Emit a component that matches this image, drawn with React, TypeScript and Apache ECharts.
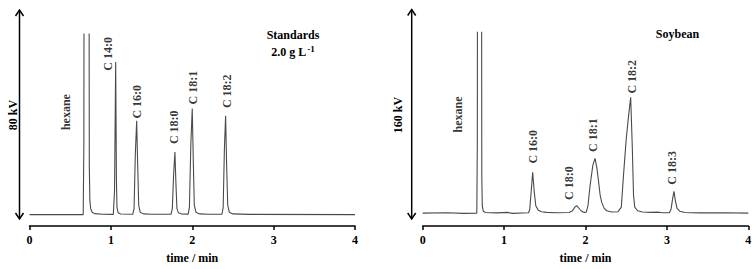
import React, { useEffect, useRef } from "react";
import * as echarts from "echarts";

// Chromatogram traces: [time (min), detector signal (arb. units)]
const standardsTrace: [number, number][] = [
  [0, 0], [0.66, 0], [0.668, 60], [0.672, 300], [0.73, 300], [0.735, 40], [0.742, 12],
  [0.752, 5], [0.77, 2], [0.8, 0.8], [0.9, 0.3], [1.03, 0.2], [1.045, 20], [1.059, 128.5],
  [1.068, 30], [1.075, 6], [1.09, 1.5], [1.12, 0.5], [1.27, 0.3], [1.285, 5], [1.3, 50],
  [1.317, 79], [1.33, 40], [1.342, 8], [1.36, 2], [1.4, 0.6], [1.5, 0.3], [1.74, 0.3],
  [1.755, 5], [1.772, 35], [1.787, 52.7], [1.8, 25], [1.812, 5], [1.83, 1.5], [1.87, 0.5],
  [1.95, 0.4], [1.965, 6], [1.983, 60], [2.0, 89.3], [2.013, 45], [2.025, 8], [2.045, 2],
  [2.09, 0.6], [2.2, 0.3], [2.365, 0.3], [2.38, 6], [2.395, 55], [2.41, 83.2], [2.423, 40],
  [2.436, 8], [2.455, 2], [2.5, 0.6], [2.7, 0.2], [4, 0],
];

const soybeanTrace: [number, number][] = [
  [0, 0], [0.3, 0.3], [0.5, -0.2], [0.665, 0], [0.671, 60], [0.674, 300], [0.722, 300],
  [0.726, 30], [0.732, 6], [0.745, 1.5], [0.77, 0.5], [0.9, 0.2], [1.05, 0.6], [1.1, -0.2],
  [1.3, 0.3], [1.315, 3], [1.335, 20], [1.351, 34.2], [1.37, 18], [1.39, 6], [1.42, 2.5],
  [1.46, 1.2], [1.52, 0.6], [1.65, 0.3], [1.8, 0.5], [1.84, 2], [1.87, 5], [1.892, 6.3],
  [1.915, 4.5], [1.945, 2], [1.975, 0.8], [1.995, 0.6], [2.01, 1], [2.03, 6], [2.056, 23],
  [2.09, 40], [2.117, 46], [2.14, 38], [2.158, 28], [2.18, 15], [2.199, 9], [2.23, 4],
  [2.26, 2], [2.32, 1], [2.4, 1.2], [2.44, 5], [2.465, 30], [2.5, 62], [2.53, 82],
  [2.555, 97.2], [2.575, 55], [2.59, 15], [2.605, 5], [2.64, 2], [2.7, 1], [2.8, 0.6],
  [2.9, 0.8], [2.95, 0.3], [3.03, 0.3], [3.05, 3], [3.07, 12], [3.087, 18.3], [3.105, 10],
  [3.125, 4], [3.16, 1.5], [3.22, 0.5], [3.4, 0.2], [3.7, 0.3], [4, 0],
];

// Peak labels: name, time, vertical position (signal units)
const standardsLabelNames = ["hexane", "C 14:0", "C 16:0", "C 18:0", "C 18:1", "C 18:2"];
const standardsLabelTimes = [0.445, 0.969, 1.317, 1.775, 2.012, 2.423];
const standardsLabelLevels = [86.3, 135.3, 95, 73.5, 106.8, 103.8];

const soybeanLabelNames = ["hexane", "C 16:0", "C 18:0", "C 18:1", "C 18:2", "C 18:3"];
const soybeanLabelTimes = [0.43, 1.359, 1.797, 2.096, 2.568, 3.059];
const soybeanLabelLevels = [82.8, 55.7, 25.1, 65.4, 114.4, 38];

const xTicks = [0, 1, 2, 3, 4];

const FONT = "Liberation Serif";

export default function App() {
  const ref = useRef<HTMLDivElement>(null);

  useEffect(() => {
    if (!ref.current) return;
    const chart = echarts.init(ref.current, undefined, { renderer: "svg" });

    const labelStyle = {
      color: "#000",
      fontFamily: FONT,
      fontWeight: "bold" as const,
      fontSize: 12,
    };

    const xAxisBase = (gridIndex: number) => ({
      type: "value" as const,
      gridIndex,
      min: xTicks[0],
      max: xTicks[xTicks.length - 1],
      interval: 1,
      axisLine: { show: true, onZero: false, lineStyle: { color: "#000", width: 1.5 } },
      axisTick: { show: true, inside: false, length: 4, lineStyle: { color: "#000", width: 1.5 } },
      axisLabel: { ...labelStyle, margin: 8 },
      splitLine: { show: false },
      name: "time / min",
      nameLocation: "middle" as const,
      nameGap: 26,
      nameTextStyle: { ...labelStyle },
    });

    const labelSeries = (names: string[], times: number[], levels: number[], idx: number) => ({
      type: "scatter" as const,
      xAxisIndex: idx,
      yAxisIndex: idx,
      symbolSize: 0,
      silent: true,
      data: names.map((n, i) => ({ name: n, value: [times[i], levels[i]] })),
      label: {
        show: true,
        position: "inside" as const,
        rotate: 90,
        formatter: (p: any) => p.name,
        ...labelStyle,
      },
    });

    const arrow = (x: number, y1: number, y2: number) => [
      {
        type: "line",
        shape: { x1: x, y1, x2: x, y2 },
        style: { stroke: "#000", lineWidth: 1.5 },
      },
      {
        type: "polyline",
        shape: { points: [[x - 4, y1 + 6], [x, y1], [x + 4, y1 + 6]] },
        style: { stroke: "#000", lineWidth: 1.5, fill: "none" },
      },
      {
        type: "polyline",
        shape: { points: [[x - 4, y2 - 6], [x, y2], [x + 4, y2 - 6]] },
        style: { stroke: "#000", lineWidth: 1.5, fill: "none" },
      },
    ];

    const textEl = (text: string, x: number, y: number, rotation = 0, extra: any = {}) => ({
      type: "text",
      x,
      y,
      rotation,
      style: {
        text,
        fill: "#000",
        font: `bold 12px "${FONT}"`,
        align: "center",
        verticalAlign: "middle",
        ...extra,
      },
    });

    chart.setOption({
      animation: false,
      backgroundColor: "#fff",
      grid: [
        { left: 29.5, top: 34, width: 325.5, height: 194, containLabel: false },
        { left: 422.7, top: 32.3, width: 325.6, height: 195, containLabel: false },
      ],
      xAxis: [xAxisBase(0), xAxisBase(1)],
      yAxis: [
        { type: "value", gridIndex: 0, min: -9.6, max: 152, show: false },
        { type: "value", gridIndex: 1, min: -10.8, max: 151.7, show: false },
      ],
      series: [
        {
          type: "line",
          xAxisIndex: 0,
          yAxisIndex: 0,
          data: standardsTrace,
          showSymbol: false,
          symbol: "none",
          clip: true,
          lineStyle: { color: "#4a4a4a", width: 1.1 },
        },
        {
          type: "line",
          xAxisIndex: 1,
          yAxisIndex: 1,
          data: soybeanTrace,
          showSymbol: false,
          symbol: "none",
          clip: true,
          lineStyle: { color: "#4a4a4a", width: 1.1 },
        },
        labelSeries(standardsLabelNames, standardsLabelTimes, standardsLabelLevels, 0),
        labelSeries(soybeanLabelNames, soybeanLabelTimes, soybeanLabelLevels, 1),
      ],
      graphic: [
        ...arrow(19.5, 10, 219),
        ...arrow(411.7, 9.5, 219),
        textEl("80 kV", 12.5, 115, Math.PI / 2),
        textEl("160 kV", 397.5, 115, Math.PI / 2),
        textEl("Standards", 293, 34.5),
        {
          type: "text",
          x: 293,
          y: 52,
          style: {
            text: "2.0 g L{sup|-1}",
            fill: "#000",
            font: `bold 12px "${FONT}"`,
            align: "center",
            verticalAlign: "middle",
            rich: {
              sup: {
                fontFamily: FONT,
                fontWeight: "bold",
                fontSize: 9,
                fill: "#000",
                padding: [0, 0, 7, 1],
              },
            },
          },
        },
        textEl("Soybean", 677.5, 33.5),
      ],
    });

    return () => chart.dispose();
  }, []);

  return (
    <div
      ref={ref}
      style={{ position: "absolute", left: 0, top: 0, width: 755, height: 269 }}
    />
  );
}
